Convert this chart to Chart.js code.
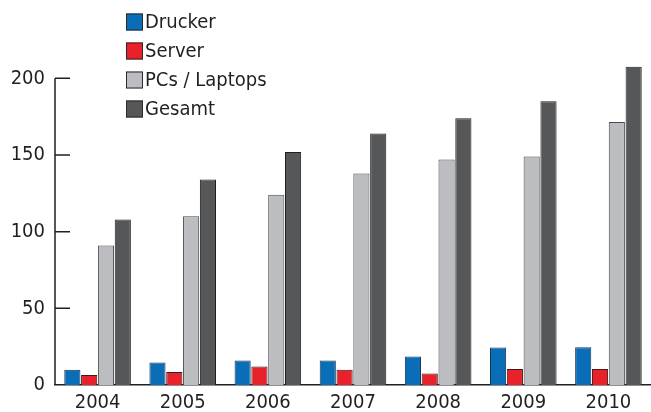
<!DOCTYPE html>
<html>
<head>
<meta charset="utf-8">
<script src="https://cdn.jsdelivr.net/npm/chart.js@4/dist/chart.umd.min.js"></script>
<style>
  html, body { margin: 0; padding: 0; background: #fff; }
  #wrap { width: 651px; height: 412px; position: relative; }
</style>
</head>
<body>
<div id="wrap"><canvas id="myChart"></canvas></div>
<script>
/** Kategorien (x-Achse) */
var jahre = ['2004', '2005', '2006', '2007', '2008', '2009', '2010']
/** Reihen */
var drucker = [10, 14.6, 16, 16, 18.6, 24.4, 24.6]
var server = [6.5, 8.5, 12, 10, 7.5, 10.5, 10.5]
var pcsLaptops = [91, 110, 124, 138, 147, 149, 171.5]
var gesamt = [108, 134, 152, 164, 174, 185, 207.5]
/** y-Achse */
var yTicks = [0, 50, 100, 150, 200]
var yMax = 210

var FONT = "'Liberation Sans Narrow', 'DejaVu Sans Condensed', sans-serif"
var FONT_SIZE = 20
var INK = '#231f20'

var diagramm = {
    chart: null,
    init: function () {
        diagramm.chart = diagramm.funcs.createChart()
    },
    funcs: {
        // linke Achse: Linie nur bis 200, Striche nach innen
        axisPlugin: {
            id: 'achse',
            afterDraw: function (chart) {
                var ctx = chart.ctx
                var y = chart.scales.y
                var x0 = chart.chartArea.left
                ctx.save()
                ctx.strokeStyle = INK
                ctx.lineWidth = 1.5
                ctx.beginPath()
                ctx.moveTo(x0, y.getPixelForValue(yTicks[yTicks.length - 1]))
                ctx.lineTo(x0, y.getPixelForValue(0))
                yTicks.forEach(function (v) {
                    if (v === 0) return
                    var py = y.getPixelForValue(v)
                    ctx.moveTo(x0, py)
                    ctx.lineTo(x0 + 15, py)
                })
                ctx.stroke()
                ctx.restore()
            }
        },
        // Legende senkrecht oben links
        legendPlugin: {
            id: 'legende',
            afterDraw: function (chart) {
                var ctx = chart.ctx
                ctx.save()
                ctx.font = FONT_SIZE + 'px ' + FONT
                ctx.textBaseline = 'middle'
                ctx.textAlign = 'left'
                chart.data.datasets.forEach(function (ds, i) {
                    var cy = 22 + i * 29
                    ctx.fillStyle = ds.backgroundColor
                    ctx.fillRect(126, cy - 8.5, 17, 17)
                    ctx.strokeStyle = '#2b2b2b'
                    ctx.lineWidth = 1
                    ctx.strokeRect(126.5, cy - 8, 16, 16)
                    ctx.fillStyle = INK
                    ctx.fillText(ds.label, 145, cy + 1)
                })
                ctx.restore()
            }
        },
        createChart: function () {
            var data = {
                labels: jahre,
                datasets: [
                    { label: 'Drucker', data: drucker, backgroundColor: '#0a6db7', borderColor: '#1d3550' },
                    { label: 'Server', data: server, backgroundColor: '#e8212b', borderColor: '#3a1a1a' },
                    { label: 'PCs / Laptops', data: pcsLaptops, backgroundColor: '#bcbdc1', borderColor: '#4a4a4c' },
                    { label: 'Gesamt', data: gesamt, backgroundColor: '#555759', borderColor: '#1e1e1e' }
                ]
            }
            data.datasets.forEach(function (ds) {
                ds.borderWidth = 1
                ds.categoryPercentage = 0.79
                ds.barPercentage = 0.96
            })
            var ctx = document.getElementById('myChart').getContext('2d')
            return new Chart(ctx, {
                type: 'bar',
                data: data,
                plugins: [diagramm.funcs.axisPlugin, diagramm.funcs.legendPlugin],
                options: {
                    responsive: true,
                    maintainAspectRatio: false,
                    animation: false,
                    layout: { padding: { top: 63, right: 0, bottom: 0, left: 0 } },
                    plugins: {
                        legend: { display: false },
                        tooltip: { enabled: false }
                    },
                    scales: {
                        x: {
                            afterFit: function (scale) { scale.height = 27 },
                            grid: { display: false, drawTicks: false },
                            border: { display: true, color: INK, width: 1.5 },
                            ticks: {
                                color: INK,
                                padding: 6,
                                font: { family: FONT, size: FONT_SIZE }
                            }
                        },
                        y: {
                            min: 0,
                            max: yMax,
                            afterFit: function (scale) { scale.width = 55 },
                            grid: { display: false, drawTicks: false },
                            border: { display: false },
                            ticks: {
                                stepSize: 50,
                                includeBounds: false,
                                color: INK,
                                padding: 10,
                                font: { family: FONT, size: FONT_SIZE }
                            }
                        }
                    }
                }
            })
        }
    }
}

diagramm.init()
</script>
</body>
</html>
